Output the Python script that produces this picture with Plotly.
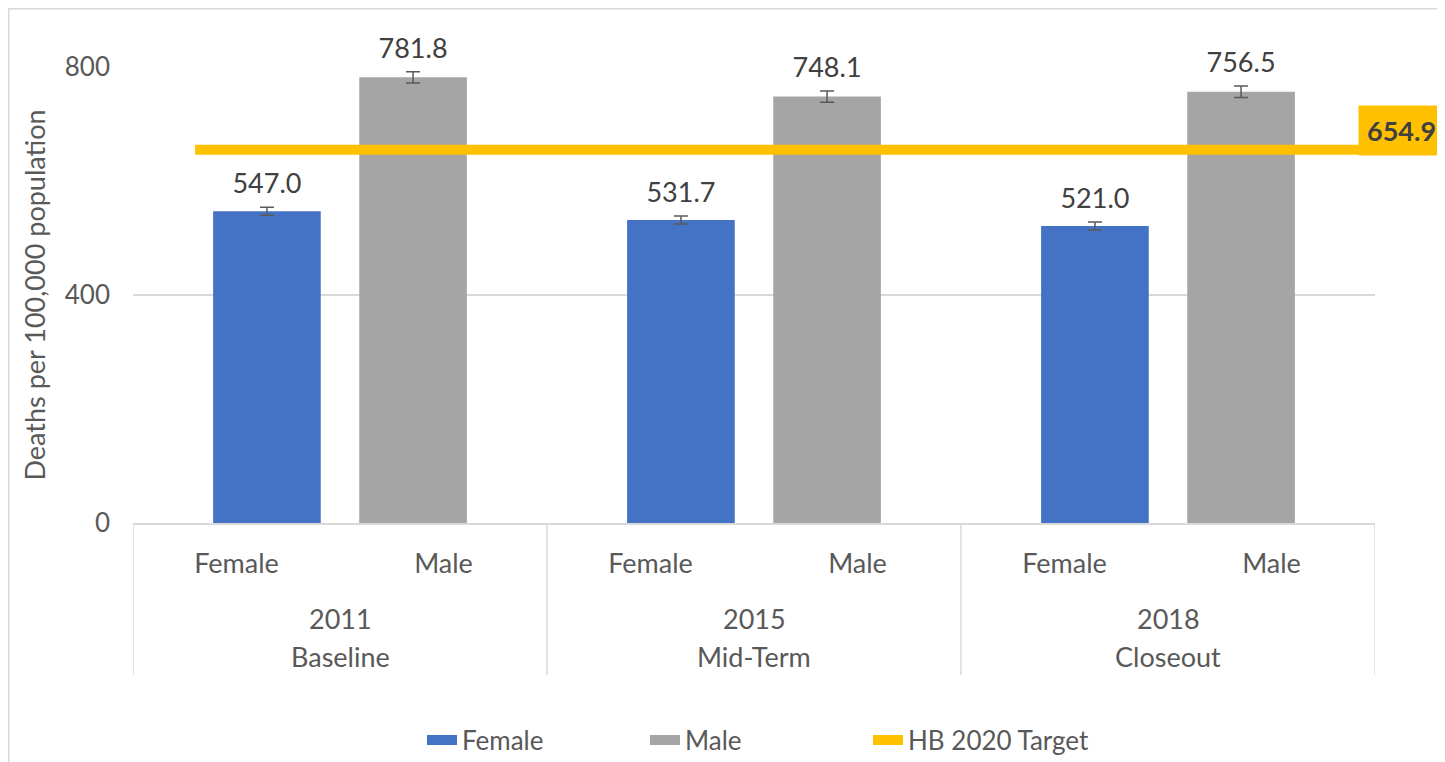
import plotly.graph_objects as go

# ---- data ----
years = ["2011", "2015", "2018"]
phases = ["Baseline", "Mid-Term", "Closeout"]
sexes = ["Female", "Male"]
female = [547.0, 531.7, 521.0]
male = [781.8, 748.1, 756.5]
female_err = [7, 7, 7]
male_err = [10, 10, 10]
target = 654.9
target_name = "HB 2020 Target"
y_ticks = [0, 400, 800]

# ---- layout constants (page has an 8px body margin) ----
W, H = 1437, 754
L, R, T, B = 125, 70, 59, 239
PW, PH = W - L - R, H - T - B
OFF = 8
FONT = "Lato"
BLUE, GRAY, GOLD = "#4472C4", "#A5A5A5", "#FFC000"
TXT = "#595959"
FS = 27
BW = 0.52       # bar width (category units)
SHIFT = 0.147   # inward shift of bars within each group


def py(page_y):
    """page pixel y -> paper y"""
    return (T + PH - (page_y - OFF)) / PH


def px(page_x):
    """page pixel x -> paper x"""
    return (page_x - OFF - L) / PW


n = len(years)
f_pos = [2 * i for i in range(n)]
m_pos = [2 * i + 1 for i in range(n)]

fig = go.Figure()
fig.add_trace(go.Bar(
    x=f_pos, y=female, name=sexes[0], showlegend=False,
    marker=dict(color=BLUE, line=dict(width=0)), width=BW, offset=-BW / 2 + SHIFT,
    error_y=dict(type="data", array=female_err, color="#595959", thickness=1.5, width=7),
))
fig.add_trace(go.Bar(
    x=m_pos, y=male, name=sexes[1], showlegend=False,
    marker=dict(color=GRAY, line=dict(width=0)), width=BW, offset=-BW / 2 - SHIFT,
    error_y=dict(type="data", array=male_err, color="#595959", thickness=1.5, width=7),
))

# value labels above the error bars
for xs, sh, vals, errs in ((f_pos, SHIFT, female, female_err), (m_pos, -SHIFT, male, male_err)):
    fig.add_trace(go.Scatter(
        x=[x + sh for x in xs], y=[v + e for v, e in zip(vals, errs)],
        mode="markers+text", marker=dict(size=10, opacity=0),
        text=[f"{v:.1f}" for v in vals], textposition="top center",
        textfont=dict(family=FONT, size=FS, color="#404040"),
        showlegend=False, hoverinfo="skip", cliponaxis=False,
    ))

# legend proxies for the bar series (wide swatches)
for nm, col in ((sexes[0], BLUE), (sexes[1], GRAY)):
    fig.add_trace(go.Scatter(
        x=[None], y=[None], mode="lines", name=nm,
        line=dict(color=col, width=18),
    ))

# target line
fig.add_trace(go.Scatter(
    x=[-0.2, 5.49], y=[target, target], mode="lines",
    line=dict(color=GOLD, width=10), name=target_name, cliponaxis=False,
))

fig.add_annotation(
    x=px(1358), xref="paper", xanchor="left", y=target, yref="y", yanchor="middle",
    yshift=19, text=f"<b>{target:.1f}</b>", showarrow=False, bgcolor=GOLD, borderpad=8,
    font=dict(family=FONT, size=FS, color="#404040"),
)

# outer category labels (year / phase) and group dividers
for i, (yr, ph) in enumerate(zip(years, phases)):
    cx = 2 * i + 0.5
    fig.add_annotation(x=cx, xref="x", y=py(618), yref="paper", yanchor="middle",
                       text=yr, showarrow=False, font=dict(family=FONT, size=FS, color=TXT))
    fig.add_annotation(x=cx, xref="x", y=py(656), yref="paper", yanchor="middle",
                       text=ph, showarrow=False, font=dict(family=FONT, size=FS, color=TXT))
for i in range(n + 1):
    fig.add_shape(type="line", xref="x", yref="paper", x0=2 * i - 0.5, x1=2 * i - 0.5,
                  y0=0, y1=py(675), line=dict(color="#D9D9D9", width=1.5))

# chart border
fig.add_shape(
    type="rect", xref="paper", yref="paper",
    x0=px(8.8), x1=px(1442), y0=py(900), y1=py(8.8),
    line=dict(color="#D9D9D9", width=1.5), fillcolor="rgba(0,0,0,0)", layer="below",
)

fig.update_layout(
    width=W, height=H,
    margin=dict(l=L, r=R, t=T, b=B, autoexpand=False),
    paper_bgcolor="white", plot_bgcolor="white",
    font=dict(family=FONT, size=FS, color=TXT),
    barmode="overlay",
    showlegend=True,
    legend=dict(
        orientation="h", x=px(422), xanchor="left",
        y=py(740), yanchor="middle",
        font=dict(family=FONT, size=FS - 1, color=TXT), entrywidth=178,
        traceorder="normal",
    ),
    xaxis=dict(
        range=[-0.5, 5.5], tickvals=f_pos + m_pos, ticktext=[sexes[0]] * n + [sexes[1]] * n,
        showline=True, linecolor="#D9D9D9", linewidth=1.5, zeroline=False,
        tickfont=dict(family=FONT, size=FS, color=TXT), ticks="",
        ticklabelstandoff=16, showgrid=False, automargin=False,
    ),
    yaxis=dict(
        range=[0, 800], tickvals=y_ticks, showline=False, zeroline=False,
        gridcolor="#D9D9D9", gridwidth=1.5, automargin=False,
        tickfont=dict(family=FONT, size=FS - 1, color=TXT), ticklabelstandoff=22,
        title=dict(text="Deaths per 100,000 population", standoff=11,
                   font=dict(family=FONT, size=FS, color=TXT)),
    ),
)

fig.write_html("out.html")
